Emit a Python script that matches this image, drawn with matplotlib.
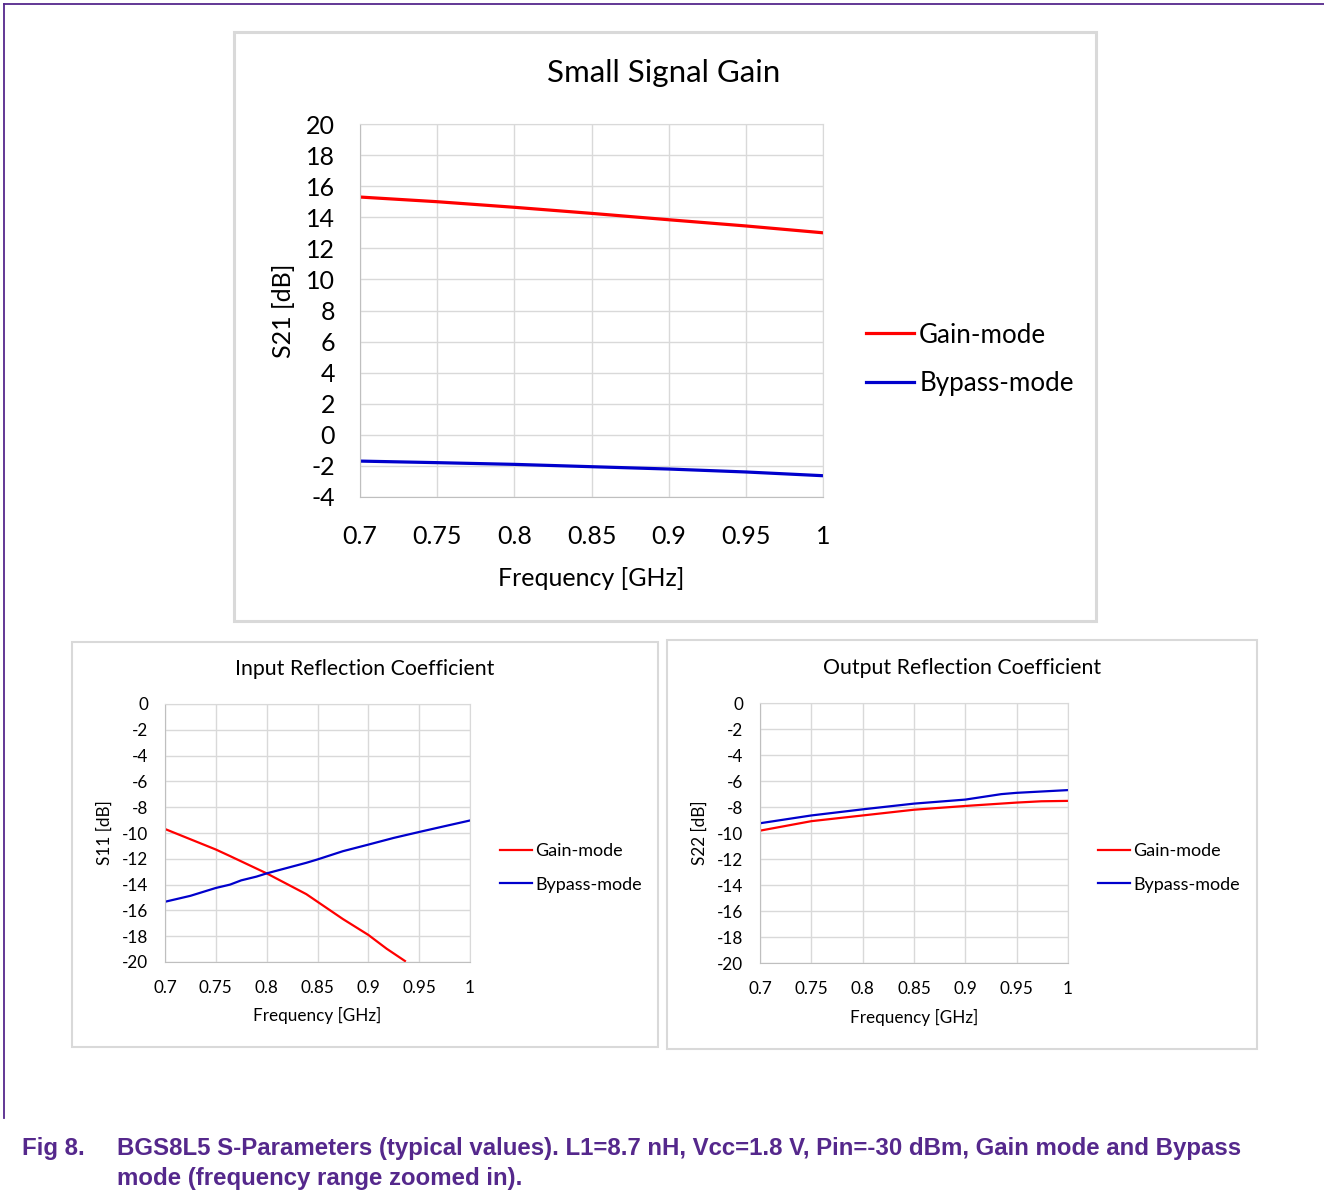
import matplotlib
matplotlib.use('Agg')
import matplotlib.pyplot as plt
from matplotlib.lines import Line2D
from matplotlib.patches import Rectangle

# S21, small signal gain
freq_s21 = [0.70, 0.75, 0.80, 0.85, 0.90, 0.95, 1.00]
s21_gain = [15.3, 15.0, 14.64, 14.25, 13.84, 13.44, 13.0]
s21_bypass = [-1.69, -1.79, -1.90, -2.05, -2.20, -2.39, -2.63]

# S11, input reflection
freq_s11_gain = [0.70, 0.75, 0.764, 0.80, 0.839, 0.85, 0.875, 0.90, 0.918, 0.936]
s11_gain = [-9.69, -11.28, -11.79, -13.13, -14.74, -15.33, -16.67, -17.9, -18.97, -19.92]
freq_s11_bypass = [0.70, 0.725, 0.75, 0.764, 0.775, 0.79, 0.80, 0.839, 0.85,
                   0.875, 0.90, 0.925, 0.95, 0.974, 1.00]
s11_bypass = [-15.33, -14.87, -14.26, -14.0, -13.67, -13.38, -13.13, -12.31, -12.05,
              -11.41, -10.9, -10.38, -9.92, -9.49, -9.03]

# S22, output reflection
freq_s22_gain = [0.70, 0.75, 0.80, 0.85, 0.90, 0.95, 0.974, 1.00]
s22_gain = [-9.82, -9.09, -8.65, -8.21, -7.92, -7.66, -7.56, -7.53]
freq_s22_bypass = [0.70, 0.75, 0.80, 0.85, 0.90, 0.935, 0.95, 1.00]
s22_bypass = [-9.25, -8.65, -8.18, -7.74, -7.43, -7.01, -6.91, -6.70]

x_ticks = [0.7, 0.75, 0.8, 0.85, 0.9, 0.95, 1.0]
x_labels = ['0.7', '0.75', '0.8', '0.85', '0.9', '0.95', '1']

W, H = 1324, 1198
RED = '#ff0000'
BLUE = '#0000cc'
GRID = '#d9d9d9'
PURPLE = '#55288c'

plt.rcParams['font.family'] = ['Lato', 'DejaVu Sans']
plt.rcParams['axes.unicode_minus'] = False

fig = plt.figure(figsize=(W / 100, H / 100), dpi=100)


def fx(x):
    return x / W


def fy(y):
    return 1 - y / H


def box(x0, y0, x1, y1, lw):
    fig.patches.append(Rectangle((fx(x0), fy(y1)), fx(x1 - x0), (y1 - y0) / H,
                                 transform=fig.transFigure, fill=False,
                                 edgecolor='#d9d9d9', linewidth=lw))


def style(ax, ylo, yhi, fs, xpad, ypad):
    ax.set_xlim(0.7, 1.0)
    ax.set_ylim(ylo, yhi)
    ax.set_xticks(x_ticks)
    ax.set_xticklabels(x_labels)
    ax.set_yticks(range(ylo, yhi + 1, 2))
    ax.grid(True, color=GRID, linewidth=1)
    ax.set_axisbelow(True)
    for s in ax.spines.values():
        s.set_color(GRID)
    ax.spines['left'].set_color('#bfbfbf')
    ax.spines['bottom'].set_color('#bfbfbf')
    ax.tick_params(length=0, labelsize=fs, colors='black')
    ax.tick_params(axis='x', pad=xpad)
    ax.tick_params(axis='y', pad=ypad)


# frame of the figure page
fig.add_artist(Line2D([fx(4), 1], [fy(4), fy(4)], color=PURPLE, lw=1.3,
                      transform=fig.transFigure))
fig.add_artist(Line2D([fx(4), fx(4)], [fy(4), fy(1118)], color=PURPLE, lw=1.3,
                      transform=fig.transFigure))

# --- top: small signal gain
box(234, 32, 1096, 621, 2.2)
ax1 = fig.add_axes([fx(360), fy(497), fx(463), 373 / H])
ax1.plot(freq_s21, s21_gain, color=RED, lw=2.3, label='Gain-mode')
ax1.plot(freq_s21, s21_bypass, color=BLUE, lw=2.3, label='Bypass-mode')
style(ax1, -4, 20, 18, 20, 18)
ax1.set_xlabel('Frequency [GHz]', fontsize=18, va='center')
ax1.xaxis.set_label_coords(0.5, -0.218)
ax1.set_ylabel('S21 [dB]', fontsize=18, va='center')
ax1.yaxis.set_label_coords(-0.166, 0.5)
fig.text(fx(664), fy(73), 'Small Signal Gain', fontsize=22.5, ha='center', va='center')
ax1.legend(loc='center left', bbox_to_anchor=(fx(866), fy(359.5)),
           bbox_transform=fig.transFigure, frameon=False, fontsize=18.7,
           handlelength=1.85, handletextpad=0.2, borderpad=0, borderaxespad=0,
           labelspacing=0.92)

# --- bottom left: input reflection
box(72, 642, 658, 1047, 1.5)
ax2 = fig.add_axes([fx(165), fy(962), fx(305), 258 / H])
ax2.plot(freq_s11_gain, s11_gain, color=RED, lw=1.6, label='Gain-mode')
ax2.plot(freq_s11_bypass, s11_bypass, color=BLUE, lw=1.6, label='Bypass-mode')
style(ax2, -20, 0, 12.3, 13, 12)
ax2.set_xlabel('Frequency [GHz]', fontsize=12.3, va='center')
ax2.xaxis.set_label_coords(0.5, -0.209)
ax2.set_ylabel('S11 [dB]', fontsize=12.3, va='center')
ax2.yaxis.set_label_coords(-0.197, 0.5)
fig.text(fx(365), fy(669), 'Input Reflection Coefficient', fontsize=15.3,
         ha='center', va='center')
ax2.legend(loc='center left', bbox_to_anchor=(fx(500), fy(868)),
           bbox_transform=fig.transFigure, frameon=False, fontsize=13,
           handlelength=1.75, handletextpad=0.2, borderpad=0, borderaxespad=0,
           labelspacing=0.95)

# --- bottom right: output reflection
box(667, 640, 1257, 1049, 1.5)
ax3 = fig.add_axes([fx(760), fy(963), fx(308), 260 / H])
ax3.plot(freq_s22_gain, s22_gain, color=RED, lw=1.6, label='Gain-mode')
ax3.plot(freq_s22_bypass, s22_bypass, color=BLUE, lw=1.6, label='Bypass-mode')
style(ax3, -20, 0, 12.3, 13, 12)
ax3.set_xlabel('Frequency [GHz]', fontsize=12.3, va='center')
ax3.xaxis.set_label_coords(0.5, -0.2115)
ax3.set_ylabel('S22 [dB]', fontsize=12.3, va='center')
ax3.yaxis.set_label_coords(-0.195, 0.5)
fig.text(fx(962), fy(668), 'Output Reflection Coefficient', fontsize=15.3,
         ha='center', va='center')
ax3.legend(loc='center left', bbox_to_anchor=(fx(1098), fy(868)),
           bbox_transform=fig.transFigure, frameon=False, fontsize=13,
           handlelength=1.75, handletextpad=0.2, borderpad=0, borderaxespad=0,
           labelspacing=0.95)

# caption
cap = dict(fontsize=17.3, fontweight='bold', color=PURPLE, va='center',
           family=['Liberation Sans', 'DejaVu Sans'])
fig.text(fx(22), fy(1149), 'Fig 8.', **cap)
fig.text(fx(117), fy(1149), 'BGS8L5 S-Parameters (typical values). L1=8.7 nH, '
         'Vcc=1.8 V, Pin=-30 dBm, Gain mode and Bypass', **cap)
fig.text(fx(117), fy(1178), 'mode (frequency range zoomed in).', **cap)

fig.savefig('out.png', dpi=100)
